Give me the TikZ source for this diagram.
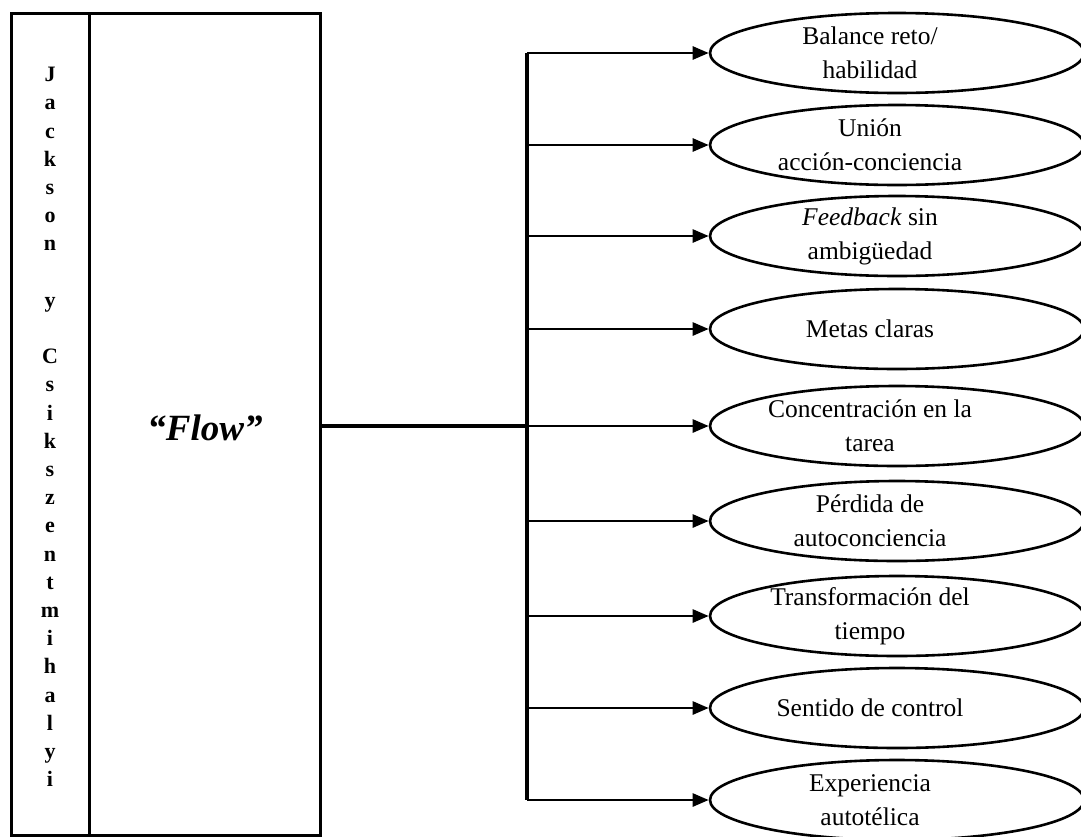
\documentclass[tikz,border=0pt]{standalone}
\usepackage{fontspec}
\setmainfont{Liberation Serif}
\usetikzlibrary{arrows.meta,shapes.geometric}
\begin{document}
\begin{tikzpicture}[x=1pt,y=-1pt,
  frame/.style={draw, rectangle, line width=3pt, inner sep=0pt},
  oval/.style={draw, ellipse, line width=2.6pt, minimum width=374pt, minimum height=80pt, inner sep=0pt},
  ovaltext/.style={align=center, inner sep=0pt, font=\fontsize{25.5}{34}\selectfont},
  trunk/.style={line width=3.2pt},
  branch/.style={line width=2.6pt, -{Triangle[length=16pt,width=13pt]}}]
\useasboundingbox (0,0) rectangle (1081,836);
\clip (0,0) rectangle (1081,836);

% left panel: authors column and the concept box
\node[frame, minimum width=78pt, minimum height=822pt] (side) at (50,424) {};
\node[frame, minimum width=231pt, minimum height=822pt] (flow) at (204.5,424) {};
\node[align=center, inner sep=0pt, font=\fontsize{22}{28.2}\selectfont\bfseries] (authors) at (50,427)
  {J\\a\\c\\k\\s\\o\\n\\~\\y\\~\\C\\s\\i\\k\\s\\z\\e\\n\\t\\m\\i\\h\\a\\l\\y\\i};
\node[inner sep=0pt, font=\fontsize{37}{40}\selectfont\bfseries\itshape] (flowtxt) at (205,428) {“Flow”};

% the nine dimensions
\foreach \i/\y in {1/53,2/145,3/236,4/329,5/426,6/521,7/616,8/708,9/800}
  \node[oval] (e\i) at (897,\y) {};
\node[ovaltext] (t1) at ([xshift=-27pt]e1.center) {Balance reto/\\habilidad};
\node[ovaltext] (t2) at ([xshift=-27pt]e2.center) {Unión\\acción-conciencia};
\node[ovaltext] (t3) at ([xshift=-27pt]e3.center) {\textit{Feedback} sin\\ambigüedad};
\node[ovaltext] (t4) at ([xshift=-27pt]e4.center) {Metas claras};
\node[ovaltext] (t5) at ([xshift=-27pt]e5.center) {Concentración en la\\tarea};
\node[ovaltext] (t6) at ([xshift=-27pt]e6.center) {Pérdida de\\autoconciencia};
\node[ovaltext] (t7) at ([xshift=-27pt]e7.center) {Transformación del\\tiempo};
\node[ovaltext] (t8) at ([xshift=-27pt]e8.center) {Sentido de control};
\node[ovaltext] (t9) at ([xshift=-27pt]e9.center) {Experiencia\\autotélica};

% connectors
\coordinate (hub) at (527,426);
\draw[trunk] (flow.east |- hub) -- (hub);
\draw[trunk] (hub |- e1.west) -- (hub |- e9.west);
\foreach \i in {1,...,9}
  \draw[branch] (hub |- e\i.west) -- (e\i.west);
\end{tikzpicture}
\end{document}
